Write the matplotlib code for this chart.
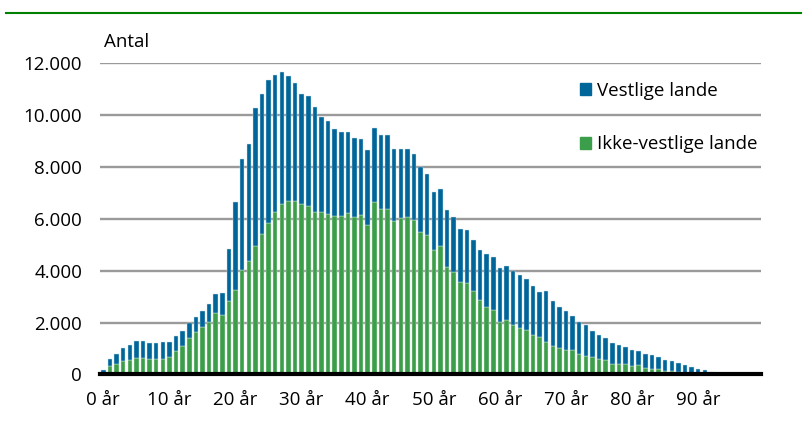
import matplotlib.pyplot as plt
import numpy as np
from matplotlib.patches import Patch
from matplotlib.lines import Line2D

plt.rcParams['font.family'] = ['Open Sans', 'DejaVu Sans']

# Antal personer pr. alder (0-99 år)
ages = list(range(100))
total = [180, 580, 800, 1030, 1150, 1290, 1280, 1220, 1220, 1240,
         1240, 1490, 1690, 2000, 2230, 2440, 2720, 3120, 3140, 4830,
         6650, 8320, 8900, 10260, 10800, 11360, 11540, 11680, 11510, 11240,
         10830, 10760, 10300, 9940, 9780, 9450, 9370, 9370, 9140, 9080,
         8660, 9510, 9240, 9220, 8700, 8680, 8680, 8510, 8000, 7740,
         7050, 7170, 6330, 6060, 5630, 5560, 5200, 4820, 4630, 4520,
         4120, 4170, 3990, 3840, 3680, 3400, 3180, 3230, 2820, 2590,
         2430, 2270, 2030, 1900, 1690, 1520, 1390, 1220, 1140, 1060,
         960, 900, 800, 760, 670, 540, 510, 430, 350, 280,
         210, 190, 90, 50, 40, 15, 10, 5, 0, 0]
ikke_vestlige = [70, 310, 410, 530, 560, 650, 650, 590, 580, 610,
                 680, 910, 1100, 1410, 1620, 1830, 2040, 2370, 2300, 2830,
                 3270, 4040, 4390, 4950, 5400, 5830, 6270, 6580, 6690, 6690,
                 6580, 6500, 6260, 6280, 6180, 6120, 6100, 6240, 6060, 6140,
                 5760, 6640, 6390, 6400, 5920, 6040, 6060, 5960, 5500, 5370,
                 4800, 4950, 4150, 3950, 3560, 3530, 3220, 2870, 2600, 2470,
                 2020, 2120, 1900, 1800, 1700, 1530, 1430, 1260, 1110, 1040,
                 950, 930, 800, 730, 660, 580, 570, 420, 420, 400,
                 340, 350, 240, 200, 200, 120, 120, 80, 40, 30,
                 15, 10, 0, 0, 0, 0, 0, 0, 0, 0]
vestlige = [t - g for t, g in zip(total, ikke_vestlige)]

tick_ages = list(range(0, 100, 10))
tick_labels = [f'{a} år' for a in tick_ages]
yticks = list(range(0, 12001, 2000))

blue = '#00669a'
green = '#3b9e4a'
fs = 13.5

fig = plt.figure(figsize=(8.07, 4.21), dpi=100)
ax = fig.add_axes([0.124, 0.1105, 0.819, 0.739])

ax.bar(ages, ikke_vestlige, width=0.68, color=green, edgecolor='#e6f0e6', linewidth=0.3, zorder=3)
ax.bar(ages, vestlige, bottom=ikke_vestlige, width=0.68, color=blue, edgecolor='#cfe2ee', linewidth=0.3, zorder=3)

ax.set_xlim(-0.5, 99.5)
ax.set_ylim(0, 12000)
ax.set_yticks(yticks)
ax.set_yticklabels([f'{v:,}'.replace(',', '.') for v in yticks], fontsize=fs)
ax.set_xticks(tick_ages)
ax.set_xticklabels(tick_labels, fontsize=fs)
ax.tick_params(axis='both', length=0)
ax.tick_params(axis='y', pad=13)
ax.tick_params(axis='x', pad=12)
ax.yaxis.grid(True, color='#9a9a9a', linewidth=1.7, zorder=0)
ax.set_axisbelow(True)
for side in ['left', 'right', 'top']:
    ax.spines[side].set_visible(False)
ax.spines['bottom'].set_linewidth(3)
ax.spines['bottom'].set_zorder(4)

fig.text(0.129, 0.9, 'Antal', fontsize=fs, ha='left', va='center')

handles = [Patch(color=blue, label='Vestlige lande'),
           Patch(color=green, label='Ikke-vestlige lande')]
ax.legend(handles=handles, loc='upper left', bbox_to_anchor=(0.7, 0.995),
          frameon=False, fontsize=fs, handlelength=0.6, handleheight=0.6,
          handletextpad=0.35, labelspacing=1.9)

# grøn linje øverst
fig.add_artist(Line2D([0.007, 0.993], [0.97, 0.97], color='#008000', linewidth=1.5))

fig.savefig('out.png', dpi=100)
